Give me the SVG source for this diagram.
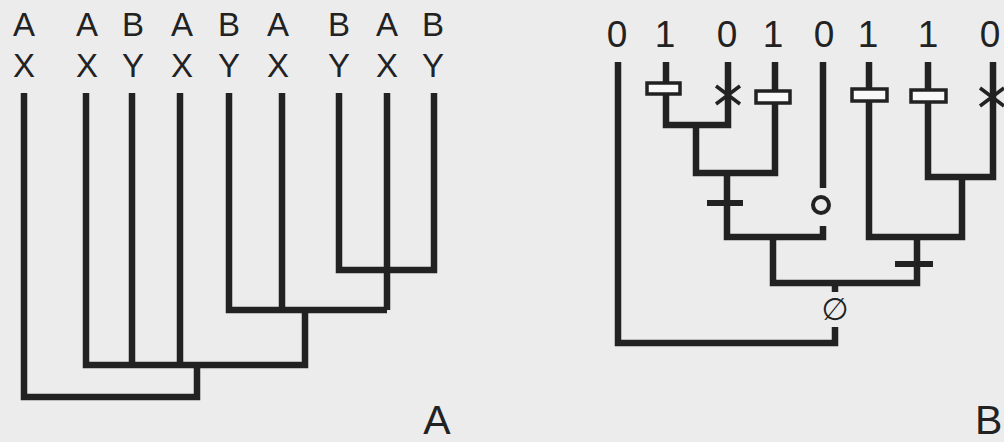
<svg xmlns="http://www.w3.org/2000/svg" width="1004" height="442" viewBox="0 0 1004 442">
<style>
.bg{fill:#ececec}
.lbl{font-family:"Liberation Sans",Arial,sans-serif;fill:#222;text-anchor:middle}
.top{font-size:33px}
.dig{font-size:37px}
.big{font-size:41px}
.br{fill:none;stroke:#222;stroke-width:6.5;stroke-linejoin:miter;stroke-linecap:butt}
.tick{fill:none;stroke:#222;stroke-width:6}
.box{fill:#f8f8f8;stroke:#222;stroke-width:3.5}
.ast{fill:none;stroke:#222;stroke-width:3.5}
.circ{fill:none;stroke:#222;stroke-width:4}
</style>
<rect class="bg" x="0" y="0" width="1004" height="442"/>

<g id="treeA-leaves">
  <g id="a1"><text class="lbl top" x="24" y="36">A</text><text class="lbl top" x="24" y="77">X</text></g>
  <g id="a2"><text class="lbl top" x="87" y="36">A</text><text class="lbl top" x="87" y="77">X</text></g>
  <g id="a3"><text class="lbl top" x="133" y="36">B</text><text class="lbl top" x="133" y="77">Y</text></g>
  <g id="a4"><text class="lbl top" x="182" y="36">A</text><text class="lbl top" x="182" y="77">X</text></g>
  <g id="a5"><text class="lbl top" x="229" y="36">B</text><text class="lbl top" x="229" y="77">Y</text></g>
  <g id="a6"><text class="lbl top" x="278" y="36">A</text><text class="lbl top" x="278" y="77">X</text></g>
  <g id="a7"><text class="lbl top" x="339" y="36">B</text><text class="lbl top" x="339" y="77">Y</text></g>
  <g id="a8"><text class="lbl top" x="387" y="36">A</text><text class="lbl top" x="387" y="77">X</text></g>
  <g id="a9"><text class="lbl top" x="433" y="36">B</text><text class="lbl top" x="433" y="77">Y</text></g>
</g>

<g id="treeB-leaves">
  <g id="b1"><text class="lbl dig" x="617" y="47">0</text></g>
  <g id="b2"><text class="lbl dig" x="665" y="47">1</text></g>
  <g id="b3"><text class="lbl dig" x="727" y="47">0</text></g>
  <g id="b4"><text class="lbl dig" x="773" y="47">1</text></g>
  <g id="b5"><text class="lbl dig" x="824" y="47">0</text></g>
  <g id="b6"><text class="lbl dig" x="868" y="47">1</text></g>
  <g id="b7"><text class="lbl dig" x="928" y="47">1</text></g>
  <g id="b8"><text class="lbl dig" x="990" y="47">0</text></g>
</g>

<g id="connectors">
  <!-- tree A -->
  <path class="br" d="M24 93 V397 H197 V365"/>
  <path class="br" d="M86 93 V365 H305 V310"/>
  <path class="br" d="M132 93 V365"/>
  <path class="br" d="M180 93 V365"/>
  <path class="br" d="M229 93 V310 H387"/>
  <path class="br" d="M282 93 V310"/>
  <path class="br" d="M387 93 V310"/>
  <path class="br" d="M339 93 V270 H434 V93"/>
  <!-- tree B -->
  <path class="br" d="M618 62 V343 H835 V327"/>
  <path class="br" d="M835 292 V283"/>
  <path class="br" d="M773 237 V283 H917 V237"/>
  <path class="br" d="M666 62 V125 H728 V62"/>
  <path class="br" d="M696 125 V173 H775 V62"/>
  <path class="br" d="M727 173 V237 H823 V226"/>
  <path class="br" d="M823 62 V188"/>
  <path class="br" d="M869 62 V237 H962 V177"/>
  <path class="br" d="M928 62 V177 H993 V62"/>
</g>

<g id="marks">
  <rect class="box" x="647" y="83" width="33" height="11"/>
  <rect class="box" x="756" y="91" width="34" height="12"/>
  <rect class="box" x="852" y="89" width="35" height="12"/>
  <rect class="box" x="911" y="90" width="35" height="12"/>
  <path class="ast" d="M716 86 L740 104 M716 104 L740 86"/>
  <path class="ast" d="M980 88 L1004 106 M980 106 L1004 88"/>
  <path class="tick" d="M707 203 H743"/>
  <path class="tick" d="M895 264 H933"/>
  <circle class="circ" cx="821" cy="205" r="8"/>
  <text class="lbl" style="font-family:'DejaVu Sans',sans-serif;font-size:31px" x="835" y="320">∅</text>
</g>

<g id="panel-labels">
  <text class="lbl big" x="437" y="434">A</text>
  <text class="lbl big" x="975" y="434" style="text-anchor:start">B</text>
</g>
</svg>
